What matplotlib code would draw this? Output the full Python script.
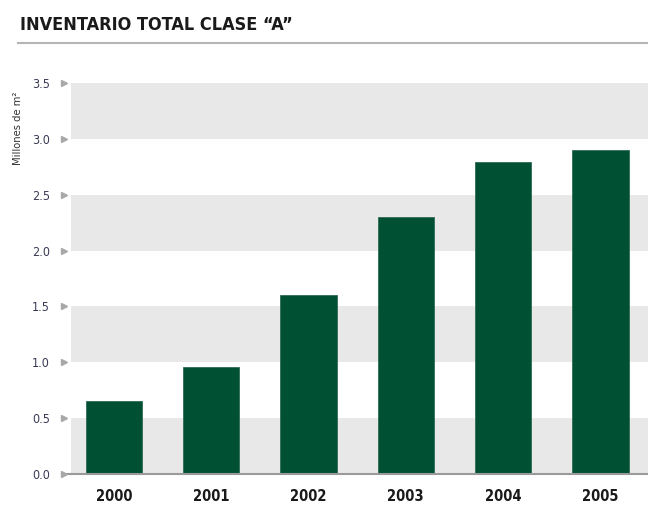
import matplotlib.pyplot as plt
import matplotlib.transforms as mtransforms
from matplotlib.lines import Line2D
import numpy as np

years = ['2000', '2001', '2002', '2003', '2004', '2005']
values = [0.65, 0.955, 1.60, 2.30, 2.79, 2.90]
yticks = [0.0, 0.5, 1.0, 1.5, 2.0, 2.5, 3.0, 3.5]

W, H = 648, 508
fig = plt.figure(figsize=(W / 100, H / 100), dpi=100)
ax = fig.add_axes([71 / W, (H - 474) / H, (W - 71) / W, (474 - 83) / H])

# grey bands
for lo in [0.0, 1.0, 2.0, 3.0]:
    ax.axhspan(lo, lo + 0.5, color='#e8e8e8', lw=0, zorder=0)

x = np.arange(len(years))
ax.bar(x, values, width=0.58, color='#005034', edgecolor='#2f6b55', lw=0.6, zorder=2)

ax.set_xlim(-0.44, 5.49)
ax.set_ylim(0, 3.5)
for s in ['top', 'right', 'left']:
    ax.spines[s].set_visible(False)
ax.spines['bottom'].set_color('#9a9a9a')
ax.spines['bottom'].set_linewidth(1.5)

ax.set_xticks(x)
ax.set_xticklabels(years, fontsize=10.5, fontweight='bold', color='#1a1a1a',
                   fontstretch='condensed')
ax.tick_params(axis='x', length=0, pad=11)

ax.set_yticks(yticks)
ax.set_yticklabels([f'{v:.1f}' for v in yticks], fontsize=9, color='#3a3a55',
                   fontstretch='condensed')
ax.tick_params(axis='y', length=0, pad=15)

# triangle markers next to tick labels
trans = mtransforms.blended_transform_factory(
    mtransforms.offset_copy(ax.transAxes, fig=fig, x=-7, units='dots'),
    ax.transData)
ax.plot([0] * len(yticks), yticks, linestyle='none', marker='>', markersize=5,
        color='#a8a8a8', transform=trans, clip_on=False, zorder=3)
ax.add_line(Line2D([-0.012, 0], [0, 0], color='#9a9a9a', lw=1.5,
                   transform=mtransforms.blended_transform_factory(ax.transAxes, ax.transData),
                   clip_on=False))

fig.text(18 / W, 1 - 128 / H, 'Millones de m²', rotation=90, fontsize=8,
         ha='center', va='center', color='#333333', fontstretch='condensed')

fig.text(20 / W, 1 - 25 / H, 'INVENTARIO TOTAL CLASE “A”', fontsize=13,
         fontweight='bold', ha='left', va='center', color='#1a1a1a',
         fontstretch='condensed')
fig.add_artist(Line2D([18 / W, 1], [1 - 43 / H, 1 - 43 / H], color='#b5b5b5', lw=1.5))

fig.savefig('out.png', dpi=100)
